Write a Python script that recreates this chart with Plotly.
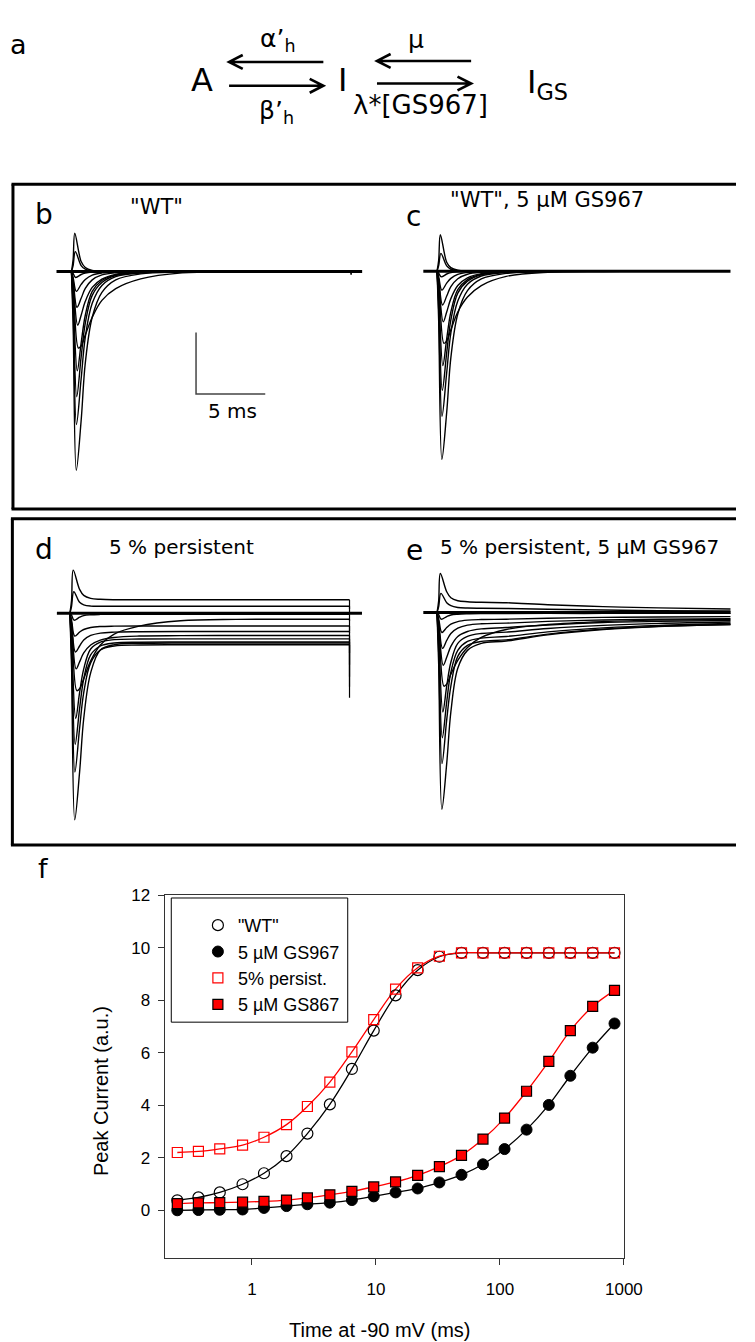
import math
import plotly.graph_objects as go

W, H = 755, 1342

# ---------------- Panel f data ----------------
T_F = [0.25, 0.37, 0.55, 0.84, 1.25, 1.9, 2.8, 4.25, 6.4, 9.6, 14.4, 21.7,
       32.5, 49, 73, 109, 164, 248, 370, 560, 840]
WT = [0.38, 0.49, 0.68, 0.99, 1.41, 2.06, 2.92, 4.03, 5.38, 6.84, 8.18, 9.14,
      9.65, 9.8, 9.8, 9.8, 9.8, 9.8, 9.8, 9.8, 9.8]
GS967 = [0.0, 0.01, 0.02, 0.03, 0.09, 0.16, 0.23, 0.29, 0.39, 0.53, 0.68, 0.83,
         1.06, 1.35, 1.75, 2.33, 3.07, 4.01, 5.12, 6.19, 7.11]
PERSIST = [2.2, 2.24, 2.34, 2.48, 2.78, 3.26, 3.95, 4.88, 6.03, 7.26, 8.42, 9.23,
           9.67, 9.8, 9.8, 9.8, 9.8, 9.8, 9.8, 9.8, 9.8]
GS867 = [0.25, 0.28, 0.29, 0.31, 0.34, 0.39, 0.47, 0.59, 0.72, 0.89, 1.08, 1.33,
         1.66, 2.09, 2.71, 3.51, 4.53, 5.67, 6.84, 7.76, 8.37]
SERIES_NAMES = ['"WT"', '5 µM GS967', '5% persist.', '5 µM GS867']
F_XTICKS = [1, 10, 100, 1000]
F_YTICKS = [0, 2, 4, 6, 8, 10, 12]

# ---------------- Panels b-e: current traces (ms, a.u.) ----------------
EARLY_T = 0.12
PEAK_T = [0.24, 0.28, 0.30, 0.35, 0.40, 0.45, 0.50, 0.42, 0.38, 0.36, 0.35]
DECAY_T = [0.7, 1.0, 1.5, 2.2, 3.2, 5.0, 8.0, 12.0, 16.0]   # + panel end time

EARLY_B = [0.6, 0.3, -0.1, -0.3, -0.45, -0.6, -0.5, -1.2, -1.6, -2.0, -2.6]
PEAK_B = [1.93, 1.0, -0.3, -1.0, -1.8, -2.7, -3.85, -5.0, -6.3, -7.7, -10.0]
DECAY_B = [
    [0.5, 0.2, 0.05, 0.01, 0, 0, 0, 0, 0, 0],
    [0.3, 0.12, 0.03, 0, 0, 0, 0, 0, 0, 0],
    [-0.15, -0.08, -0.03, -0.01, 0, 0, 0, 0, 0, 0],
    [-0.65, -0.4, -0.18, -0.07, -0.02, 0, 0, 0, 0, 0],
    [-1.35, -0.85, -0.42, -0.17, -0.06, -0.02, 0, 0, 0, 0],
    [-2.2, -1.5, -0.8, -0.38, -0.14, -0.04, 0, 0, 0, 0],
    [-3.75, -3.2, -2.3, -1.45, -0.86, -0.37, -0.07, -0.02, 0, 0],
    [-3.6, -2.2, -1.0, -0.45, -0.17, -0.05, 0, 0, 0, 0],
    [-4.3, -2.6, -1.2, -0.55, -0.2, -0.06, 0, 0, 0, 0],
    [-5.4, -3.3, -1.6, -0.7, -0.26, -0.07, -0.01, 0, 0, 0],
    [-7.5, -4.6, -2.3, -1.05, -0.42, -0.12, -0.03, 0, 0, 0],
]
TAIL_B = [0, 0, 0, 0, 0, 0, 0, -0.05, -0.08, -0.12, -0.18]

EARLY_C = [0.55, 0.28, -0.1, -0.28, -0.42, -0.55, -0.45, -1.1, -1.5, -1.9, -2.5]
PEAK_C = [1.84, 0.9, -0.28, -0.95, -1.7, -2.55, -3.63, -4.75, -6.0, -7.3, -9.47]
DECAY_C = [
    [0.45, 0.18, 0.05, 0.01, 0, 0, 0, 0, 0, 0],
    [0.27, 0.1, 0.03, 0, 0, 0, 0, 0, 0, 0],
    [-0.14, -0.07, -0.02, 0, 0, 0, 0, 0, 0, 0],
    [-0.6, -0.36, -0.16, -0.06, -0.02, 0, 0, 0, 0, 0],
    [-1.25, -0.78, -0.38, -0.15, -0.05, -0.01, 0, 0, 0, 0],
    [-2.05, -1.38, -0.72, -0.33, -0.12, -0.03, 0, 0, 0, 0],
    [-3.5, -2.95, -2.05, -1.3, -0.72, -0.26, -0.05, -0.01, 0, 0],
    [-3.4, -2.05, -0.93, -0.42, -0.15, -0.04, 0, 0, 0, 0],
    [-4.1, -2.45, -1.1, -0.5, -0.18, -0.05, 0, 0, 0, 0],
    [-5.1, -3.1, -1.5, -0.65, -0.24, -0.06, 0, 0, 0, 0],
    [-7.1, -4.35, -2.15, -0.98, -0.39, -0.11, -0.02, 0, 0, 0],
]

EARLY_D = [0.65, 0.35, -0.1, -0.35, -0.5, -0.65, -0.55, -1.3, -1.7, -2.1, -2.7]
PEAK_D = [2.17, 1.08, -0.35, -1.15, -1.95, -2.8, -3.9, -5.3, -6.6, -8.0, -10.4]
DECAY_D = [
    [1.2, 0.9, 0.75, 0.7, 0.68, 0.68, 0.68, 0.68, 0.68, 0.68],
    [0.55, 0.42, 0.36, 0.35, 0.35, 0.35, 0.35, 0.35, 0.35, 0.35],
    [-0.2, -0.12, -0.08, -0.06, -0.05, -0.05, -0.05, -0.05, -0.05, -0.05],
    [-0.95, -0.82, -0.72, -0.67, -0.65, -0.64, -0.64, -0.64, -0.64, -0.64],
    [-1.65, -1.35, -1.12, -1.0, -0.95, -0.93, -0.92, -0.92, -0.92, -0.92],
    [-2.45, -2.0, -1.6, -1.35, -1.22, -1.15, -1.13, -1.12, -1.12, -1.12],
    [-3.8, -3.3, -2.4, -1.6, -1.05, -0.65, -0.38, -0.31, -0.3, -0.3],
    [-4.0, -2.8, -1.8, -1.45, -1.33, -1.3, -1.29, -1.29, -1.29, -1.29],
    [-4.8, -3.3, -2.1, -1.65, -1.5, -1.46, -1.45, -1.45, -1.45, -1.45],
    [-5.8, -4.0, -2.5, -1.85, -1.65, -1.6, -1.59, -1.59, -1.59, -1.59],
    [-8.0, -5.3, -3.0, -1.85, -1.58, -1.52, -1.5, -1.5, -1.5, -1.5],
]
TAIL_D = [0.2, 0.0, -0.4, -1.0, -1.5, -2.0, -0.9, -2.6, -3.2, -3.7, -4.25]

EARLY_E = [0.6, 0.3, -0.1, -0.3, -0.48, -0.62, -0.5, -1.2, -1.6, -2.0, -2.6]
PEAK_E = [1.97, 0.97, -0.33, -1.0, -1.8, -2.65, -3.7, -5.0, -6.3, -7.6, -9.9]
DECAY_E = [
    [1.05, 0.75, 0.6, 0.55, 0.52, 0.5, 0.4, 0.3, 0.24, 0.18],
    [0.5, 0.35, 0.26, 0.23, 0.22, 0.21, 0.17, 0.13, 0.1, 0.08],
    [-0.2, -0.12, -0.08, -0.06, -0.05, -0.05, -0.04, -0.04, -0.03, -0.03],
    [-0.75, -0.58, -0.45, -0.38, -0.35, -0.33, -0.28, -0.24, -0.22, -0.2],
    [-1.4, -1.05, -0.78, -0.63, -0.56, -0.53, -0.44, -0.37, -0.33, -0.3],
    [-2.25, -1.7, -1.2, -0.95, -0.82, -0.75, -0.62, -0.5, -0.44, -0.4],
    [-3.6, -3.1, -2.4, -1.75, -1.25, -0.85, -0.6, -0.45, -0.38, -0.35],
    [-3.7, -2.5, -1.55, -1.2, -1.05, -0.98, -0.8, -0.64, -0.54, -0.47],
    [-4.5, -3.0, -1.9, -1.45, -1.28, -1.2, -0.97, -0.77, -0.64, -0.55],
    [-5.4, -3.7, -2.2, -1.65, -1.45, -1.37, -1.08, -0.83, -0.69, -0.6],
    [-7.6, -5.0, -2.8, -1.9, -1.55, -1.43, -1.12, -0.85, -0.7, -0.6],
]

SCALE_MS = 5
SCALE_AU = 3.1

# ---------------- geometry / style (pixels) ----------------
PXMS, PXU = 14.2, 20.0
PANELS = [
    dict(k=2, onset=73.3, base=264.3, area=(18, 180, 378, 500), span=(-1.08, 21.0), end=20.2,
         data=(EARLY_B, PEAK_B, DECAY_B), tail=TAIL_B),
    dict(k=3, onset=448.3, base=264.0, area=(392, 180, 755, 500), span=(-0.99, 21.2), end=20.8,
         data=(EARLY_C, PEAK_C, DECAY_C), tail=None),
    dict(k=4, onset=71.7, base=608.3, area=(18, 517, 378, 838), span=(-0.94, 21.1), end=20.2,
         data=(EARLY_D, PEAK_D, DECAY_D), tail=TAIL_D),
    dict(k=5, onset=448.3, base=607.7, area=(392, 517, 755, 838), span=(-0.99, 21.2), end=21.2,
         data=(EARLY_E, PEAK_E, DECAY_E), tail=None),
]


def PX(x):
    return x / W


def PY(y):
    return 1 - y / H


TXT = "DejaVu Sans"
ARIAL = "Liberation Sans"

fig = go.Figure()
layout_axes = {}

for p in PANELS:
    k = p['k']
    xa, ya = f"x{k}", f"y{k}"
    x0, y0, x1, y1 = p['area']
    layout_axes[f"xaxis{k}"] = dict(domain=[PX(x0), PX(x1)],
                                    range=[(x0 - p['onset']) / PXMS, (x1 - p['onset']) / PXMS],
                                    visible=False, fixedrange=True, anchor=ya)
    layout_axes[f"yaxis{k}"] = dict(domain=[PY(y1), PY(y0)],
                                    range=[(p['base'] - y1) / PXU, (p['base'] - y0) / PXU],
                                    visible=False, fixedrange=True, anchor=xa)
    early, peak, decay = p['data']
    for j in range(len(peak)):
        t = [0.0, EARLY_T, PEAK_T[j]] + DECAY_T + [p['end']]
        v = [0.0, early[j], peak[j]] + decay[j]
        fig.add_trace(go.Scatter(x=t, y=v, mode='lines', xaxis=xa, yaxis=ya,
                                 line=dict(color='black', width=1.4, shape='spline', smoothing=1.0),
                                 showlegend=False, hoverinfo='skip'))
    if p['tail'] is not None:
        tx, ty = [], []
        for j in range(len(peak)):
            tx += [p['end'], p['end'], None]
            ty += [decay[j][-1], p['tail'][j], None]
        fig.add_trace(go.Scatter(x=tx, y=ty, mode='lines', xaxis=xa, yaxis=ya,
                                 line=dict(color='black', width=1.2),
                                 showlegend=False, hoverinfo='skip'))
    fig.add_trace(go.Scatter(x=list(p['span']), y=[0, 0], mode='lines', xaxis=xa, yaxis=ya,
                             line=dict(color='black', width=3), showlegend=False, hoverinfo='skip'))

# scale bar in panel b
sb_x, sb_y = 9.0, -6.17
fig.add_trace(go.Scatter(x=[sb_x, sb_x, sb_x + SCALE_MS], y=[sb_y + SCALE_AU, sb_y, sb_y],
                         mode='lines', xaxis='x2', yaxis='y2',
                         line=dict(color='#444444', width=1.5), showlegend=False, hoverinfo='skip'))

# ---------------- panel f ----------------
styles = [
    (WT, dict(symbol='circle-open', color='black', size=11, line=dict(color='black', width=1.2)), 'black'),
    (GS967, dict(symbol='circle', color='black', size=11, line=dict(color='black', width=1)), 'black'),
    (PERSIST, dict(symbol='square-open', color='red', size=10, line=dict(color='red', width=1.2)), 'red'),
    (GS867, dict(symbol='square', color='red', size=10, line=dict(color='black', width=1.2)), 'red'),
]
for ys, mk, lc in styles:
    fig.add_trace(go.Scatter(x=T_F, y=ys, mode='lines', line=dict(color=lc, width=1.3, shape='spline'),
                             showlegend=False, hoverinfo='skip'))
for (ys, mk, lc), name in zip(styles, SERIES_NAMES):
    fig.add_trace(go.Scatter(x=T_F, y=ys, mode='markers', marker=mk, name=name))

axis_common = dict(showline=True, linecolor='#333333', linewidth=1.3, mirror=True,
                   ticks='outside', ticklen=6, tickwidth=1.3, tickcolor='#333333',
                   showgrid=False, zeroline=False, fixedrange=True,
                   tickfont=dict(family=ARIAL, size=17, color='black'))

fig.update_layout(
    width=W, height=H, margin=dict(l=0, r=0, t=0, b=0),
    paper_bgcolor='white', plot_bgcolor='white',
    xaxis=dict(domain=[PX(169), PX(640)], type='log', range=[math.log10(0.198), 3.0],
               tickvals=F_XTICKS, ticktext=[str(v) for v in F_XTICKS],
               ticklabelstandoff=10, anchor='y', **axis_common),
    yaxis=dict(domain=[PY(1257), PY(892)], range=[-1.8, 12], tickvals=F_YTICKS,
               ticklabelstandoff=4, anchor='x', **axis_common),
    legend=dict(x=PX(203), y=PY(904), xanchor='left', yanchor='top',
                bgcolor='rgba(0,0,0,0)', borderwidth=0, tracegroupgap=0,
                font=dict(family=ARIAL, size=18, color='black')),
    showlegend=True,
    **layout_axes,
)


def ann(x, y, text, size, family=TXT, xanchor='center', yanchor='middle', angle=0, color='black'):
    fig.add_annotation(x=PX(x), y=PY(y), xref='paper', yref='paper', text=text, showarrow=False,
                       xanchor=xanchor, yanchor=yanchor, textangle=angle,
                       font=dict(family=family, size=size, color=color))


# panel letters and titles
ann(8, 36, 'a', 27, xanchor='left')
ann(34, 207, 'b', 28, xanchor='left')
ann(131, 199, '"WT"', 21, xanchor='left')
ann(414, 209, 'c', 28, xanchor='left')
ann(460, 192, '"WT", 5 µM GS967', 21, xanchor='left')
ann(34, 544, 'd', 28, xanchor='left')
ann(110, 542, '5 % persistent', 20, xanchor='left')
ann(414, 545, 'e', 28, xanchor='left')
ann(449, 542, '5 % persistent, 5 µM GS967', 20, xanchor='left')
ann(37, 865, 'f', 27, xanchor='left')
ann(238, 405, '5 ms', 20)

# kinetic scheme
ann(207.5, 71, 'A', 32)
ann(351.5, 71, 'I', 32)
ann(539, 76, 'I<sub>GS</sub>', 32, xanchor='left')
ann(265, 31, 'α’<sub>h</sub>', 25, xanchor='left')
ann(264, 104, 'β’<sub>h</sub>', 25, xanchor='left')
ann(427, 31, 'μ', 25)
ann(431.7, 97, 'λ*[GS967]', 26)

# axis titles for f
ann(103, 1089, 'Peak Current (a.u.)', 20, family=ARIAL, angle=-90)
ann(390, 1330, 'Time at -90 mV (ms)', 20, family=ARIAL)

shapes = []


def arrow(x0, x1, y, head):
    ax, ay = 14, 7
    hx, s = (x0, 1) if head == 'left' else (x1, -1)
    path = (f"M {PX(x0)} {PY(y)} L {PX(x1)} {PY(y)} "
            f"M {PX(hx + s * ax)} {PY(y - ay)} L {PX(hx)} {PY(y)} L {PX(hx + s * ax)} {PY(y + ay)}")
    shapes.append(dict(type='path', path=path, xref='paper', yref='paper',
                       line=dict(color='black', width=2.6)))


arrow(235, 331.7, 53.3, 'left')
arrow(235, 331.7, 77.3, 'right')
arrow(386.7, 483.3, 52.3, 'left')
arrow(386.7, 483.3, 75, 'right')

# panel frames (open on the right, running to the page edge)
FRAME_RIGHT = W
for top, bot, left in [(176.5, 503.5, 13.3), (513.3, 841.7, 12.7)]:
    for (xa0, ya0, xa1, ya1) in [(left - 1.5, top, FRAME_RIGHT, top), (left, top, left, bot),
                                 (left - 1.5, bot, FRAME_RIGHT, bot)]:
        shapes.append(dict(type='line', xref='paper', yref='paper',
                           x0=PX(xa0), y0=PY(ya0), x1=PX(xa1), y1=PY(ya1),
                           line=dict(color='black', width=3)))

# legend frame
shapes.append(dict(type='rect', xref='paper', yref='paper', x0=PX(175.7), x1=PX(356.7),
                   y0=PY(1020), y1=PY(895), line=dict(color='black', width=1)))

fig.update_layout(shapes=shapes)
fig.write_html("out.html")
